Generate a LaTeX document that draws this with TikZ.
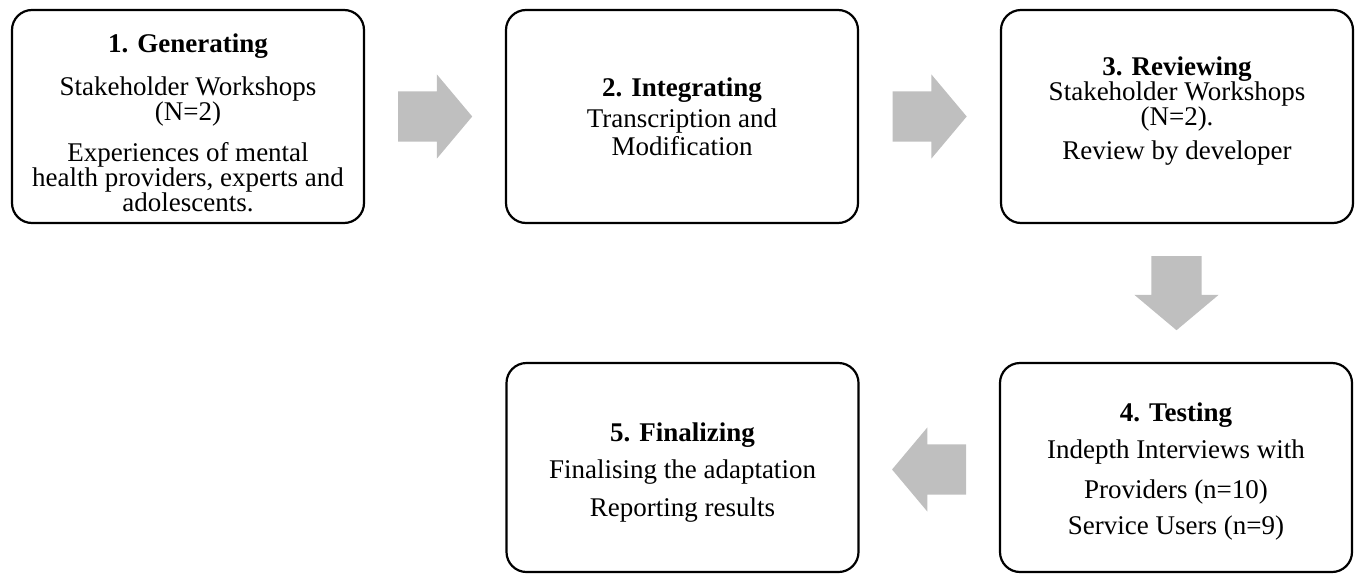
\documentclass[tikz,border=0pt]{standalone}
\usepackage{fontspec}
\setmainfont{Liberation Serif}
\usetikzlibrary{shapes.arrows,calc}
\definecolor{arrowgray}{RGB}{191,191,191}
\lineskiplimit=-20pt

\begin{document}
\begin{tikzpicture}[x=1pt, y=-1pt,
  stage/.style={draw, line width=2.2pt, rounded corners=20pt, minimum width=352pt, inner sep=0pt, align=center, font=\fontsize{27}{25}\selectfont},
  blockarrow/.style={single arrow, fill=arrowgray, draw=none, inner xsep=0pt, inner ysep=25pt, minimum height=74pt, single arrow head extend=17pt, single arrow tip angle=100, anchor=tail}]

\useasboundingbox (0,0) rectangle (1356,573);

\begin{scope}[minimum height=213pt]
\node [stage] (gen) at (188,116.5) {\rule{0pt}{30.5pt}\textbf{1. Generating}\\[18pt] Stakeholder Workshops\\ (N=2)\\[16pt] Experiences of mental\\ health providers, experts and\\ adolescents.};
\node [stage] (integ) at (682,116.5) {\textbf{2. Integrating}\\[6pt] Transcription and\\[3pt] Modification};
\node [stage] (review) at (1177,116.5) {\textbf{3. Reviewing}\\ Stakeholder Workshops\\ (N=2).\\[9pt] Review by developer\rule[-16pt]{0pt}{16pt}};
\end{scope}

\begin{scope}[minimum height=209pt]
\node [stage] (test) at (1176,467.5) {\rule{0pt}{26.5pt}\textbf{4. Testing}\\[12pt] Indepth Interviews with\\[15pt] Providers (n=10)\\[11pt] Service Users (n=9)};
\node [stage] (final) at (682.5,467.5) {\rule{0pt}{28.5pt}\textbf{5. Finalizing}\\[12pt] Finalising the adaptation\\[13pt] Reporting results};
\end{scope}

% block arrows, tail placed half a length before the middle of each gap
\node [blockarrow] (genint) at ($(gen.east)!0.5!(integ.west)+(-37,0)$) {};
\node [blockarrow] (intrev) at ($(integ.east)!0.5!(review.west)+(-37,0)$) {};
\node [blockarrow, rotate=-90] (revtest) at ($(review.south)!0.5!(test.north)+(0,-37)$) {};
\node [blockarrow, rotate=180] (testfin) at ($(test.west)!0.5!(final.east)+(37,2)$) {};

\end{tikzpicture}
\end{document}
